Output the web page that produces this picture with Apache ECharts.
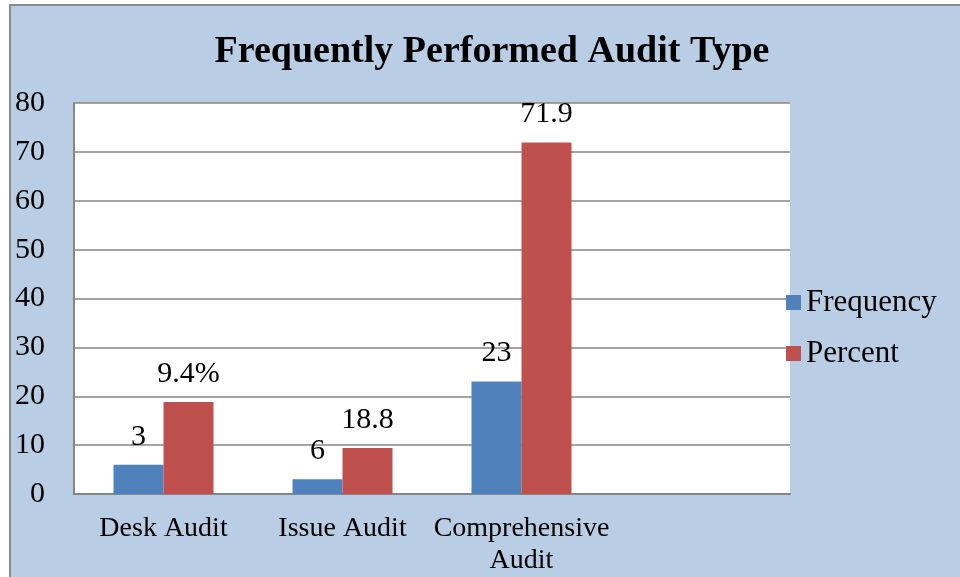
<!DOCTYPE html>
<html>
<head>
<meta charset="utf-8">
<script src="https://cdn.jsdelivr.net/npm/echarts@6/dist/echarts.min.js"></script>
<style>
  html, body { margin: 0; padding: 0; background: #ffffff; }
  #wrap { position: relative; width: 960px; height: 577px; overflow: hidden; background: #ffffff; }
  #frame { position: absolute; left: 9px; top: 4px; width: 960px; height: 580px;
           border-left: 2px solid #8a8a8a; border-top: 2px solid #8a8a8a; background: #b9cde5; }
  #chart { position: absolute; left: 0; top: 0; width: 960px; height: 577px; }
</style>
</head>
<body>
<div id="wrap">
  <div id="frame"></div>
  <div id="chart"></div>
</div>
<script>
// Data
const categories = ['Desk Audit', 'Issue Audit', 'Comprehensive\nAudit', ''];
const frequencyValues = [6, 3, 23, null];
const percentValues = [18.8, 9.4, 71.9, null];
// Data labels as printed in the picture
const frequencyLabels = ['3', '6', '23', ''];
const percentLabels = ['9.4%', '18.8', '71.9', ''];
const yTicks = { min: 0, max: 80, interval: 10 };

const serif = '"Liberation Serif", "Times New Roman", serif';
const chart = echarts.init(document.getElementById('chart'), null, { renderer: 'canvas' });

chart.setOption({
  backgroundColor: 'transparent',
  animation: false,
  title: {
    text: 'Frequently Performed Audit Type',
    left: 487,
    textAlign: 'center',
    top: 28,
    textStyle: { fontFamily: serif, fontWeight: 'bold', fontSize: 38, color: '#000' }
  },
  legend: {
    orient: 'vertical',
    left: 786,
    top: 287,
    padding: 0,
    itemWidth: 15,
    itemHeight: 15,
    itemGap: 20,
    itemTextGap: 8,
    icon: 'rect',
    textStyle: { fontFamily: serif, fontSize: 31, color: '#000' },
    data: ['Frequency', 'Percent']
  },
  grid: { left: 74, right: 170, top: 103, bottom: 83, show: true, backgroundColor: '#ffffff', borderWidth: 0 },
  xAxis: {
    type: 'category',
    data: categories,
    axisTick: { show: false },
    axisLine: { lineStyle: { color: '#868686', width: 2 } },
    axisLabel: { interval: 0, fontFamily: serif, fontSize: 28, color: '#000', margin: 19, lineHeight: 32 }
  },
  yAxis: {
    type: 'value',
    min: yTicks.min, max: yTicks.max, interval: yTicks.interval,
    axisLine: { show: true, lineStyle: { color: '#868686', width: 2 } },
    axisTick: { show: false },
    splitLine: { lineStyle: { color: '#868686', width: 1.5 } },
    axisLabel: { fontFamily: serif, fontSize: 30, color: '#000', margin: 29 }
  },
  series: [
    {
      name: 'Frequency', type: 'bar', data: frequencyValues,
      barWidth: 50, barGap: '0%',
      itemStyle: { color: '#4f81bd' },
      label: { show: true, position: 'top', distance: 13, fontFamily: serif, fontSize: 30, color: '#000',
               formatter: p => frequencyLabels[p.dataIndex] }
    },
    {
      name: 'Percent', type: 'bar', data: percentValues,
      barWidth: 50, barGap: '0%',
      itemStyle: { color: '#c0504d' },
      label: { show: true, position: 'top', distance: 13, fontFamily: serif, fontSize: 30, color: '#000',
               formatter: p => percentLabels[p.dataIndex] }
    }
  ]
});
</script>
</body>
</html>
